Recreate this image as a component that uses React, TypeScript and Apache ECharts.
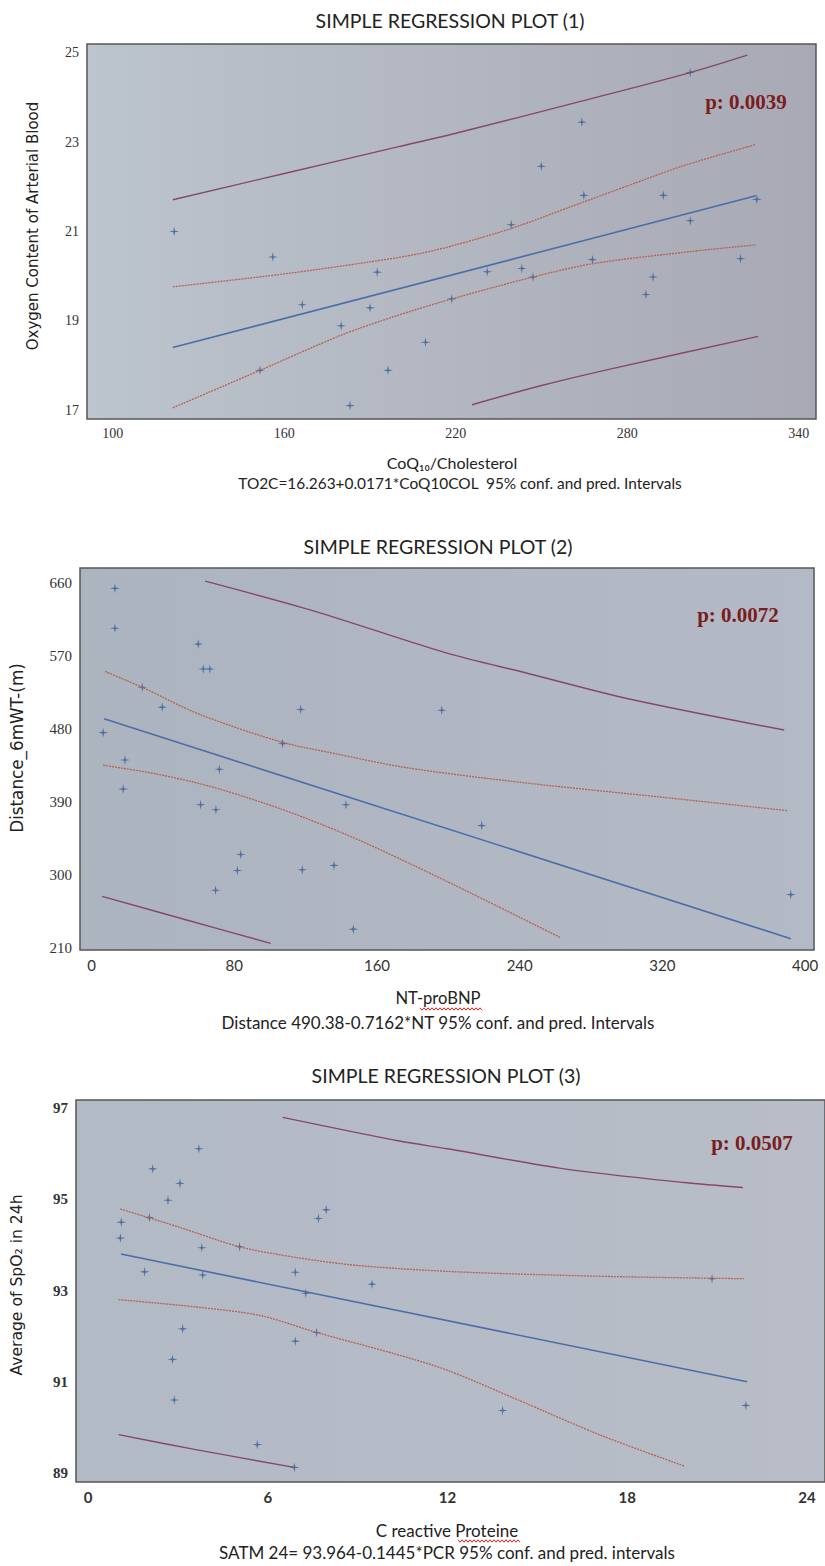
import React, { useEffect, useRef } from "react";
import * as echarts from "echarts";

// ---------- Panel 1 data ----------
const p1X = [121.5, 156, 192.5, 166.3, 190, 179.9, 209.4, 151.5, 196.3, 183, 218.6, 302, 264.1, 249.9, 264.8, 292.6, 325.3, 239.4, 302, 267.8, 319.6, 231, 243.1, 247, 289, 286.5];
const p1Y = [21.0, 20.43, 20.09, 19.36, 19.29, 18.89, 18.52, 17.89, 17.89, 17.1, 19.49, 24.56, 23.45, 22.46, 21.81, 21.81, 21.72, 21.15, 21.24, 20.37, 20.39, 20.1, 20.17, 19.98, 19.98, 19.59];
const p1RegX = [121, 325];
const p1RegY = [18.4, 21.8];
const p1UcX = [121, 160, 190, 207, 220, 240, 260, 280, 300, 325];
const p1UcY = [19.76, 20.05, 20.32, 20.5, 20.7, 21.08, 21.55, 22.02, 22.48, 22.95];
const p1LcX = [121, 151.5, 180, 198.7, 218.6, 247, 268, 302, 325];
const p1LcY = [17.05, 17.89, 18.68, 19.1, 19.49, 19.98, 20.28, 20.55, 20.7];
const p1UpX = [121, 160, 200, 220, 264, 302, 322];
const p1UpY = [21.71, 22.3, 22.9, 23.2, 23.92, 24.56, 24.95];
const p1LpX = [225.7, 250, 275.5, 325.8];
const p1LpY = [17.12, 17.55, 17.94, 18.65];
const ticks1X = [100, 160, 220, 280, 340];
const ticks1Y = [17, 19, 21, 23, 25];

// ---------- Panel 2 data ----------
const p2X = [13.1, 13.1, 59.8, 62.6, 66.3, 28.4, 39.6, 117.2, 6.5, 107.1, 18.7, 71.6, 17.7, 61.1, 69.7, 142.6, 83.6, 81.7, 118.1, 135.9, 69.5, 146.7, 196.3, 218.7, 392];
const p2Y = [653.9, 604.8, 585.2, 554.5, 554.5, 531.9, 507.4, 504.5, 476, 462.5, 442.3, 430.9, 406.4, 387.1, 381, 387.1, 325.8, 306.1, 307, 312.3, 281.6, 233.7, 503.6, 361.4, 276.3];
const p2RegX = [7, 392];
const p2RegY = [493, 222];
const p2UcX = [7.5, 28.4, 60.7, 107.1, 135.5, 176, 241, 320.6, 390.3];
const p2UcY = [551.5, 531.9, 498.4, 464, 450.6, 433, 414.6, 396.2, 379.8];
const p2LcX = [6.5, 36.9, 68.6, 106.2, 141.8, 178, 213.1, 262.6];
const p2LcY = [435.8, 424.8, 408.4, 381.8, 351.2, 315, 277.6, 223.6];
const p2UpX = [63.7, 125.7, 199.3, 243.6, 302.8, 388.3];
const p2UpY = [662.8, 625.3, 574, 549.6, 516.8, 479.2];
const p2LpX = [5.9, 53.3, 100.4];
const p2LpY = [274.2, 245, 216.2];
const ticks2X = [0, 80, 160, 240, 320, 400];
const ticks2Y = [210, 300, 390, 480, 570, 660];

// ---------- Panel 3 data ----------
const p3X = [3.7, 2.16, 3.07, 2.67, 1.11, 2.05, 1.08, 3.8, 5.06, 1.89, 3.83, 6.92, 7.27, 7.69, 7.95, 9.48, 3.16, 7.63, 6.92, 2.82, 2.88, 5.65, 6.89, 20.83, 13.84, 21.96];
const p3Y = [96.11, 95.67, 95.35, 94.98, 94.5, 94.6, 94.15, 93.94, 93.96, 93.41, 93.34, 93.4, 92.94, 94.58, 94.77, 93.14, 92.16, 92.08, 91.89, 91.49, 90.6, 89.62, 89.12, 93.26, 90.37, 90.48];
const p3RegX = [1.1, 22];
const p3RegY = [93.8, 91.0];
const p3UcX = [1.08, 3, 5.06, 7, 9, 12, 15, 18, 21.9];
const p3UcY = [94.79, 94.4, 93.96, 93.72, 93.55, 93.42, 93.35, 93.3, 93.26];
const p3LcX = [1.02, 3.6, 5.76, 7.63, 10.3, 12, 14.25, 17.1, 19.9];
const p3LcY = [92.8, 92.64, 92.45, 92.08, 91.6, 91.25, 90.63, 89.83, 89.15];
const p3UpX = [6.5, 10.4, 12, 15.9, 19.9, 21.86];
const p3UpY = [96.8, 96.28, 96.11, 95.67, 95.37, 95.26];
const p3LpX = [1.02, 3.6, 6.89];
const p3LpY = [89.84, 89.51, 89.12];
const ticks3X = [0, 6, 12, 18, 24];
const ticks3Y = [89, 91, 93, 95, 97];

const titles = ["SIMPLE REGRESSION PLOT (1)", "SIMPLE REGRESSION PLOT (2)", "SIMPLE REGRESSION PLOT (3)"];
const pValues = ["p: 0.0039", "p: 0.0072", "p: 0.0507"];

const STAR = "path://M5,0 L5.8,4.2 L10,5 L5.8,5.8 L5,10 L4.2,5.8 L0,5 L4.2,4.2 Z";
const REG = "#4b6ea8";
const CONF = "#b8604f";
const PRED = "#86486a";
const PT = "#3a5c93";

const zip = (xs: number[], ys: number[]) => xs.map((x, i) => [x, ys[i]]);

function panelSeries(idx: number, px: number[], py: number[], reg: number[][], uc: number[][], lc: number[][], up: number[][], lp: number[][]) {
  const line = (data: number[][], color: string, width: number, type: any) => ({
    type: "line",
    xAxisIndex: idx,
    yAxisIndex: idx,
    data,
    showSymbol: false,
    smooth: 0.3,
    silent: true,
    lineStyle: { color, width, type },
  });
  return [
    line(up, PRED, 1.4, "solid"),
    line(lp, PRED, 1.4, "solid"),
    line(uc, CONF, 1.3, [2, 1]),
    line(lc, CONF, 1.3, [2, 1]),
    line(reg, REG, 1.6, "solid"),
    {
      type: "scatter",
      xAxisIndex: idx,
      yAxisIndex: idx,
      data: zip(px, py),
      symbol: STAR,
      symbolSize: 10,
      itemStyle: { color: PT },
    },
  ];
}

function xAxisOf(idx: number, min: number, max: number, ticks: number[], lab: any) {
  return {
    type: "value",
    gridIndex: idx,
    min,
    max,
    axisLine: { show: false },
    axisTick: { show: false },
    splitLine: { show: false },
    axisLabel: { customValues: ticks, margin: 7, color: "#333", ...lab },
  };
}
function yAxisOf(idx: number, min: number, max: number, ticks: number[], lab: any) {
  return {
    type: "value",
    gridIndex: idx,
    min,
    max,
    axisLine: { show: false },
    axisTick: { show: false },
    splitLine: { show: false },
    axisLabel: { customValues: ticks, margin: 8, color: "#333", ...lab },
  };
}

function grad(a: string, b: string) {
  return new echarts.graphic.LinearGradient(0, 0, 1, 0, [
    { offset: 0, color: a },
    { offset: 1, color: b },
  ]);
}

function squiggle(x0: number, x1: number, y: number) {
  const pts: number[][] = [];
  let up = true;
  for (let x = x0; x <= x1; x += 2) {
    pts.push([x, up ? y - 1.2 : y + 1.2]);
    up = !up;
  }
  return { type: "polyline", shape: { points: pts }, style: { stroke: "#e0201c", lineWidth: 1, fill: null } };
}

export default function App() {
  const ref = useRef<HTMLDivElement>(null);
  useEffect(() => {
    if (!ref.current) return;
    const chart = echarts.init(ref.current, null, { renderer: "svg" });
    const text = (x: number, y: number, t: string, font: string, fill = "#222", rotation = 0) => ({
      type: "text",
      x,
      y,
      rotation,
      style: { text: t, font, fill, textAlign: "center", textVerticalAlign: "middle" },
    });
    const option: any = {
      animation: false,
      backgroundColor: "#ffffff",
      grid: [
        { left: 87, top: 44, width: 729, height: 375, show: true, borderColor: "#555", borderWidth: 1.5, backgroundColor: grad("#bcc4ce", "#a8a9b4") },
        { left: 80, top: 568, width: 734, height: 382, show: true, borderColor: "#555", borderWidth: 1.5, backgroundColor: grad("#acb4c0", "#b4bac5") },
        { left: 76, top: 1100, width: 752, height: 382, show: true, borderColor: "#555", borderWidth: 1.5, backgroundColor: grad("#b2bac6", "#b8bdc7") },
      ],
      xAxis: [
        xAxisOf(0, 91, 346, ticks1X, { fontFamily: "Liberation Serif", fontSize: 14 }),
        xAxisOf(1, -6.5, 405, ticks2X, { fontFamily: "Lato", fontSize: 15 }),
        xAxisOf(2, -0.4, 24.6, ticks3X, { fontFamily: "Lato", fontSize: 15, fontWeight: "bold" }),
      ],
      yAxis: [
        yAxisOf(0, 16.8, 25.2, ticks1Y, { fontFamily: "Liberation Serif", fontSize: 14 }),
        yAxisOf(1, 208, 679, ticks2Y, { fontFamily: "Liberation Serif", fontSize: 15 }),
        yAxisOf(2, 88.8, 97.18, ticks3Y, { fontFamily: "Liberation Serif", fontSize: 15, fontWeight: "bold" }),
      ],
      series: [
        ...panelSeries(0, p1X, p1Y, zip(p1RegX, p1RegY), zip(p1UcX, p1UcY), zip(p1LcX, p1LcY), zip(p1UpX, p1UpY), zip(p1LpX, p1LpY)),
        ...panelSeries(1, p2X, p2Y, zip(p2RegX, p2RegY), zip(p2UcX, p2UcY), zip(p2LcX, p2LcY), zip(p2UpX, p2UpY), zip(p2LpX, p2LpY)),
        ...panelSeries(2, p3X, p3Y, zip(p3RegX, p3RegY), zip(p3UcX, p3UcY), zip(p3LcX, p3LcY), zip(p3UpX, p3UpY), zip(p3LpX, p3LpY)),
      ],
      graphic: [
        text(450, 20, titles[0], '19.5px "Lato"'),
        text(438, 546, titles[1], '19.5px "Lato"'),
        text(446, 1075, titles[2], '19.5px "Lato"'),
        text(746, 102, pValues[0], 'bold 21px "Liberation Serif"', "#7a1d1d"),
        text(738, 615, pValues[1], 'bold 21px "Liberation Serif"', "#7a1d1d"),
        text(752, 1143, pValues[2], 'bold 21px "Liberation Serif"', "#7a1d1d"),
        text(33, 226, "Oxygen Content of Arterial Blood", '15px "DejaVu Sans"', "#222", Math.PI / 2),
        text(17, 748, "Distance_6mWT-(m)", '16.8px "DejaVu Sans"', "#222", Math.PI / 2),
        text(17, 1285, "Average of SpO\u2082 in 24h", '15.6px "DejaVu Sans"', "#222", Math.PI / 2),
        text(452, 462, "CoQ\u2081\u2080/Cholesterol", '16px "Lato"'),
        text(460, 483, "TO2C=16.263+0.0171*CoQ10COL  95% conf. and pred. Intervals", '15.4px "Lato"'),
        text(438, 998, "NT-proBNP", '16.6px "Lato"'),
        text(438, 1022, "Distance 490.38-0.7162*NT 95% conf. and pred. Intervals", '17px "Lato"'),
        text(447, 1530, "C reactive Proteine", '17px "Lato"'),
        text(447, 1552, "SATM 24= 93.964-0.1445*PCR 95% conf. and pred. intervals", '17px "Lato"'),
        squiggle(420, 482, 1009),
        squiggle(458, 521, 1541),
      ],
    };
    chart.setOption(option);
    return () => chart.dispose();
  }, []);
  return <div ref={ref} style={{ position: "absolute", left: 0, top: 0, width: 825, height: 1566 }} />;
}
